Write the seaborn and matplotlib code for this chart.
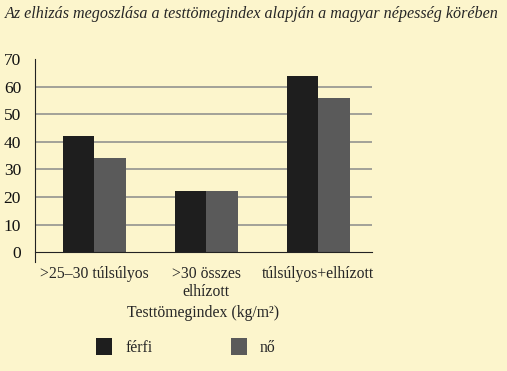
import pandas as pd
import matplotlib.pyplot as plt
import seaborn as sns

kategoriak = ['>25\u201330 túlsúlyos', '>30 összes\nelhízott', 'túlsúlyos+elhízott']
ferfi = [42, 22, 64]
no = [34, 22, 56]
nemek = ['férfi', 'nő']
y_ticks = [0, 10, 20, 30, 40, 50, 60, 70]

df = pd.DataFrame({
    'kat': kategoriak * 2,
    'ertek': ferfi + no,
    'nem': [nemek[0]] * 3 + [nemek[1]] * 3,
})

bg = '#fcf5cc'
sns.set_style('white', rc={'axes.facecolor': bg, 'figure.facecolor': bg})
plt.rcParams['font.family'] = ['Liberation Serif', 'DejaVu Serif']

fig = plt.figure(figsize=(5.07, 3.71), dpi=100)
ax = fig.add_axes([0.069, 0.2938, 0.665, 0.547])

sns.barplot(data=df, x='kat', y='ertek', hue='nem', palette=['#1e1e1e', '#5a5a5a'],
            width=0.56, linewidth=0, saturation=1, ax=ax)

ax.set_xlim(-0.53, 2.48)
ax.set_ylim(-3.6, 70)
ax.set_yticks(y_ticks)
ax.tick_params(axis='y', labelsize=12.5, length=5, width=1, direction='out', pad=5, colors='#111')
ax.tick_params(axis='x', which='major', length=0, labelsize=11.3, pad=10)
ax.set_xticks([0.5, 1.5], minor=True)
ax.tick_params(axis='x', which='minor', length=6, width=0.8, direction='out', color='#555')

ax.spines['top'].set_visible(False)
ax.spines['right'].set_visible(False)
ax.spines['bottom'].set_position(('data', 0))
ax.spines['left'].set_color('#222')
ax.spines['bottom'].set_color('#222')

ax.yaxis.grid(True, color='#8a8a8a', linewidth=1.1)
ax.set_axisbelow(True)
for t, gl in zip(y_ticks, ax.yaxis.get_gridlines()):
    if t in (0, 70):
        gl.set_visible(False)

ax.set_xlabel('Testtömegindex (kg/m²)', fontsize=11.3, labelpad=3)
ax.set_ylabel('')

handles, labels = ax.get_legend_handles_labels()
ax.get_legend().remove()
fig.legend(handles, labels, loc='center left', bbox_to_anchor=(0.19, 0.065), ncol=2,
           frameon=False, fontsize=11.3, handlelength=1.0, handleheight=1.25,
           handletextpad=0.85, columnspacing=5.0, borderpad=0, borderaxespad=0)

fig.text(0.01, 0.962, 'Az elhizás megoszlása a testtömegindex alapján a magyar népesség körében',
         fontsize=11.6, style='italic', ha='left', va='center')

fig.savefig('out.png', dpi=100, facecolor=bg)
